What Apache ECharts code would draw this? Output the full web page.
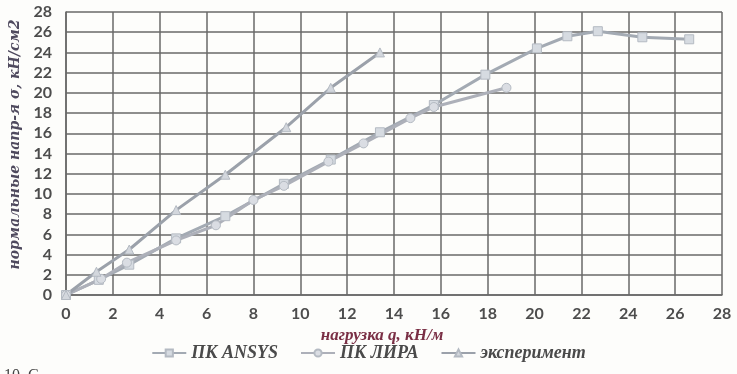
<!DOCTYPE html>
<html>
<head>
<meta charset="utf-8">
<style>
  html, body { margin: 0; padding: 0; background: #fdfdfb; }
  #chart { width: 737px; height: 374px; }
</style>
<script src="https://cdn.jsdelivr.net/npm/echarts@6/dist/echarts.min.js"></script>
</head>
<body>
<div id="chart"></div>
<script>
// Load q (kN/m) vs normal stress σ (kN/cm²)
const seriesNames = ['ПК ANSYS', 'ПК ЛИРА', 'эксперимент'];

const ansysQ     = [0, 1.4, 2.7, 4.7, 6.8, 9.3, 11.3, 13.4, 15.7, 17.9, 20.1, 21.4, 22.7, 24.6, 26.6];
const ansysSigma = [0, 1.5, 3.0, 5.6, 7.8, 11.0, 13.4, 16.1, 18.8, 21.8, 24.4, 25.6, 26.1, 25.5, 25.3];

const liraQ      = [0, 1.5, 2.6, 4.7, 6.4, 8.0, 9.3, 11.2, 12.7, 14.7, 15.7, 18.8];
const liraSigma  = [0, 1.6, 3.2, 5.4, 6.9, 9.4, 10.8, 13.2, 15.0, 17.5, 18.6, 20.5];

const expQ       = [0, 1.3, 2.7, 4.7, 6.8, 9.4, 11.3, 13.4];
const expSigma   = [0, 2.3, 4.5, 8.4, 11.9, 16.6, 20.5, 24.0];

const xTicks = { min: 0, max: 28, step: 2 };
const yTicks = { min: 0, max: 28, step: 2 };

const pairs = (xs, ys) => xs.map((x, i) => [x, ys[i]]);

const gridColor = '#686868';
const tickFont = { fontFamily: 'Lato', fontWeight: 'bold', fontSize: 16, color: '#4d4d4d' };

function lineSeries(name, data, symbol, lineColor, fill) {
  return {
    name, type: 'line', data,
    symbol, symbolSize: 9,
    lineStyle: { width: 3, color: lineColor },
    itemStyle: { color: fill, borderColor: '#b4bac2', borderWidth: 1 },
    emphasis: { disabled: true },
    z: 3
  };
}

const chart = echarts.init(document.getElementById('chart'), null, { renderer: 'canvas' });
chart.setOption({
  backgroundColor: '#fdfdfb',
  animation: false,
  grid: { left: 66, right: 15, top: 12, bottom: 79, containLabel: false },
  xAxis: {
    type: 'value', min: xTicks.min, max: xTicks.max, interval: xTicks.step,
    name: 'нагрузка q, кН/м', nameLocation: 'middle', nameGap: 20,
    nameTextStyle: { fontFamily: 'Liberation Serif', fontStyle: 'italic', fontWeight: 'bold', fontSize: 17, color: '#7a2f45', padding: [0, 24, 0, 0] },
    axisLine: { lineStyle: { color: gridColor, width: 1.5 } },
    axisTick: { show: false },
    axisLabel: Object.assign({ margin: 11 }, tickFont),
    splitLine: { show: true, lineStyle: { color: gridColor, width: 1.5 } }
  },
  yAxis: {
    type: 'value', min: yTicks.min, max: yTicks.max, interval: yTicks.step,
    name: 'нормальные напр-я σ, кН/см2', nameLocation: 'middle', nameGap: 42,
    nameTextStyle: { fontFamily: 'DejaVu Serif', fontStyle: 'italic', fontWeight: 'bold', fontSize: 14, color: '#4f4a5e', padding: [0, 0, 0, 18] },
    axisLine: { show: true, lineStyle: { color: gridColor, width: 1.5 } },
    axisTick: { show: false },
    axisLabel: Object.assign({ margin: 14 }, tickFont),
    splitLine: { show: true, lineStyle: { color: gridColor, width: 1.5 } }
  },
  legend: {
    bottom: 7, left: 'center', itemGap: 22, itemWidth: 34, itemHeight: 9,
    textStyle: { fontFamily: 'Liberation Serif', fontStyle: 'italic', fontWeight: 'bold', fontSize: 18, color: '#4a4a4a' },
    data: seriesNames
  },
  graphic: [{
    type: 'text', left: 4, top: 368,
    style: { text: '10. С', font: '16px "Liberation Serif"', fill: '#444' }
  }],
  series: [
    lineSeries(seriesNames[0], pairs(ansysQ, ansysSigma), 'rect', '#a3aab3', '#d6dbe1'),
    lineSeries(seriesNames[1], pairs(liraQ, liraSigma), 'circle', '#adb0b9', '#dadde3'),
    lineSeries(seriesNames[2], pairs(expQ, expSigma), 'triangle', '#9ba1aa', '#d3d7dd')
  ]
});
</script>
</body>
</html>
